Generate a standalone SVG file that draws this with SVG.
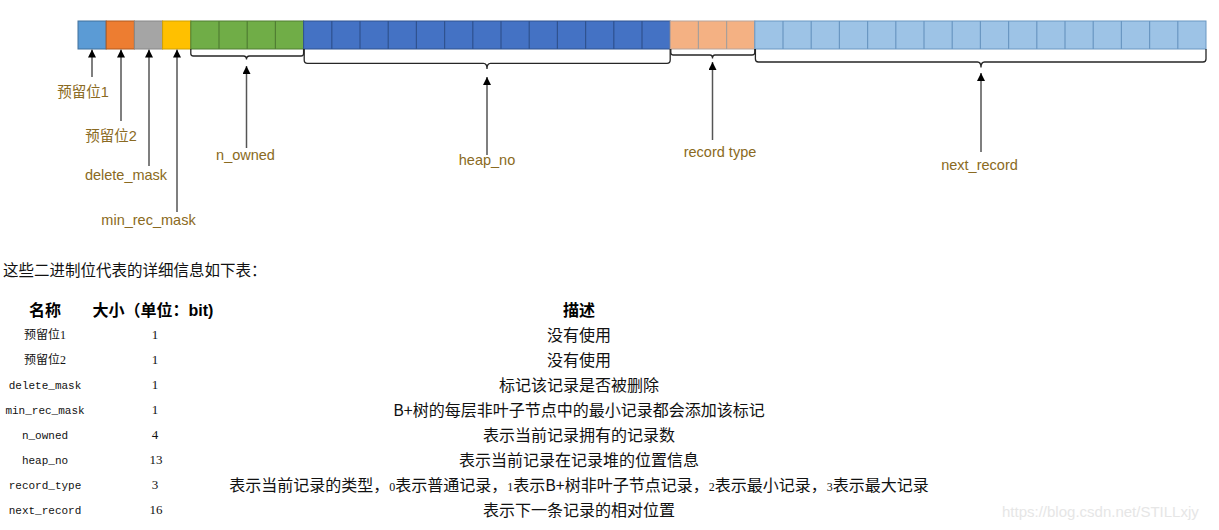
<svg xmlns="http://www.w3.org/2000/svg" width="1219" height="530" viewBox="0 0 1219 530">
<style>
.lbl{font-family:"Liberation Sans","Noto Sans CJK SC",sans-serif;font-size:14.5px;fill:#8a6a22;text-anchor:middle}
.brace{fill:none;stroke:#262626;stroke-width:1.3}
.arr{stroke:#555;stroke-width:1.5;fill:none;marker-end:url(#ah)}
.sep{stroke-width:1.2;fill:none}
.intro{font-family:"Noto Sans CJK SC",sans-serif;font-size:15.5px;fill:#111}
.hd{font-family:"Liberation Sans","Noto Sans CJK SC",sans-serif;font-size:16px;font-weight:bold;fill:#000;text-anchor:middle}
.nm{font-family:"Liberation Mono","Noto Sans CJK SC",monospace;font-size:11px;fill:#111;text-anchor:middle}
.nmc{font-family:"Liberation Serif","Noto Sans CJK SC",serif;font-size:12px;fill:#111;text-anchor:middle}
.sz{font-family:"Liberation Serif",serif;font-size:13px;fill:#111;text-anchor:middle}
.ds{font-family:"Noto Sans CJK SC",sans-serif;font-size:16px;fill:#111;text-anchor:middle}
.dg{font-family:"Liberation Serif",serif;font-size:12px}
.wm{font-family:"Liberation Sans",sans-serif;font-size:15px;fill:#e6e6e6}
</style>
<defs>
<marker id="ah" viewBox="0 0 8 8" refX="8" refY="4" markerWidth="8" markerHeight="8" markerUnits="userSpaceOnUse" orient="auto">
<path d="M0,0 L8,4 L0,8 z" fill="#000"/>
</marker>
</defs>

<g id="bar">
<g id="f-res1"><rect x="78" y="21" width="28.2" height="28" fill="#5B9BD5" stroke="#41719C" stroke-width="1"/></g>
<g id="f-res2"><rect x="106.2" y="21" width="28.2" height="28" fill="#ED7D31" stroke="#AE5A21" stroke-width="1"/></g>
<g id="f-del"><rect x="134.4" y="21" width="28.2" height="28" fill="#A5A5A5" stroke="#888" stroke-width="1"/></g>
<g id="f-min"><rect x="162.6" y="21" width="28.2" height="28" fill="#FFC000" stroke="#D0A000" stroke-width="1"/></g>
<g id="f-nowned">
<rect x="190.8" y="21" width="112.8" height="28" fill="#70AD47" stroke="#507E32" stroke-width="1"/>
<path class="sep" stroke="#507E32" d="M219,21V49M247.2,21V49M275.4,21V49"/>
</g>
<g id="f-heap">
<rect x="303.6" y="21" width="366.6" height="28" fill="#4472C4" stroke="#2F528F" stroke-width="1"/>
<path class="sep" stroke="#2F528F" d="M331.8,21V49M360,21V49M388.2,21V49M416.4,21V49M444.6,21V49M472.8,21V49M501,21V49M529.2,21V49M557.4,21V49M585.6,21V49M613.8,21V49M642,21V49"/>
</g>
<g id="f-rtype">
<rect x="670.2" y="21" width="84.6" height="28" fill="#F4B183" stroke="#B7A39A" stroke-width="1"/>
<path class="sep" stroke="#A89F9A" d="M698.4,21V49M726.6,21V49"/>
</g>
<g id="f-next">
<rect x="754.8" y="21" width="451.2" height="28" fill="#9DC3E6" stroke="#6A97C2" stroke-width="1"/>
<path class="sep" stroke="#6A97C2" d="M783,21V49M811.2,21V49M839.4,21V49M867.6,21V49M895.8,21V49M924,21V49M952.2,21V49M980.4,21V49M1008.6,21V49M1036.8,21V49M1065,21V49M1093.2,21V49M1121.4,21V49M1149.6,21V49M1177.8,21V49"/>
</g>
</g>

<g id="connectors">
<path class="brace" d="M190.8,49V53.5Q190.8,56 193.3,56H243.5Q246.5,56 246.5,59.5Q246.5,56 249.5,56H301Q303.6,56 303.6,53.5V49"/>
<path class="brace" d="M304.2,49V60Q304.2,63.3 307.5,63.3H483.5Q487,63.3 487,69Q487,63.3 490.5,63.3H667Q670.2,63.3 670.2,60V49"/>
<path class="brace" d="M670.8,49V52.5Q670.8,55 673.3,55H710Q712.5,55 712.5,58.5Q712.5,55 715,55H752Q754.8,55 754.8,52.5V49"/>
<path class="brace" d="M755.4,49V59Q755.4,62 758.4,62H977.5Q981,62 981,67.5Q981,62 984.5,62H1203Q1206,62 1206,59V49"/>
<line class="arr" x1="92" y1="77" x2="92" y2="49.5"/>
<line class="arr" x1="121" y1="121" x2="121" y2="49.5"/>
<line class="arr" x1="149" y1="166" x2="149" y2="49.5"/>
<line class="arr" x1="177" y1="212" x2="177" y2="49.5"/>
<line class="arr" x1="246.5" y1="148" x2="246.5" y2="66"/>
<line class="arr" x1="487" y1="155" x2="487" y2="77"/>
<line class="arr" x1="712.5" y1="140" x2="712.5" y2="62"/>
<line class="arr" x1="981" y1="152" x2="981" y2="73"/>
</g>

<g id="labels">
<text class="lbl" x="83" y="97">预留位1</text>
<text class="lbl" x="111" y="141">预留位2</text>
<text class="lbl" x="126" y="180">delete_mask</text>
<text class="lbl" x="148.5" y="225">min_rec_mask</text>
<text class="lbl" x="245.5" y="160">n_owned</text>
<text class="lbl" x="487" y="165">heap_no</text>
<text class="lbl" x="720" y="157">record type</text>
<text class="lbl" x="979.5" y="170">next_record</text>
</g>

<g id="table">
<text class="intro" x="3" y="276">这些二进制位代表的详细信息如下表：</text>
<text class="hd" x="45" y="316">名称</text>
<text class="hd" x="153" y="316">大小（单位：bit)</text>
<text class="hd" x="579" y="316">描述</text>

<text class="nmc" x="45" y="339">预留位1</text>
<text class="nmc" x="45" y="364">预留位2</text>
<text class="nm" x="45" y="389">delete_mask</text>
<text class="nm" x="45" y="414">min_rec_mask</text>
<text class="nm" x="45" y="439">n_owned</text>
<text class="nm" x="45" y="464">heap_no</text>
<text class="nm" x="45" y="489">record_type</text>
<text class="nm" x="45" y="514">next_record</text>

<text class="sz" x="155" y="339">1</text>
<text class="sz" x="155" y="364">1</text>
<text class="sz" x="155" y="389">1</text>
<text class="sz" x="155" y="414">1</text>
<text class="sz" x="155" y="439">4</text>
<text class="sz" x="156" y="464">13</text>
<text class="sz" x="155" y="489">3</text>
<text class="sz" x="156" y="514">16</text>

<text class="ds" x="579" y="341">没有使用</text>
<text class="ds" x="579" y="366">没有使用</text>
<text class="ds" x="579" y="391">标记该记录是否被删除</text>
<text class="ds" x="579" y="416">B+树的每层非叶子节点中的最小记录都会添加该标记</text>
<text class="ds" x="579" y="441">表示当前记录拥有的记录数</text>
<text class="ds" x="579" y="466">表示当前记录在记录堆的位置信息</text>
<text class="ds" x="579" y="491">表示当前记录的类型，<tspan class="dg">0</tspan>表示普通记录，<tspan class="dg">1</tspan>表示B+树非叶子节点记录，<tspan class="dg">2</tspan>表示最小记录，<tspan class="dg">3</tspan>表示最大记录</text>
<text class="ds" x="579" y="516">表示下一条记录的相对位置</text>
</g>

<text class="wm" x="1002" y="517">https://blog.csdn.net/STILLxjy</text>
</svg>
